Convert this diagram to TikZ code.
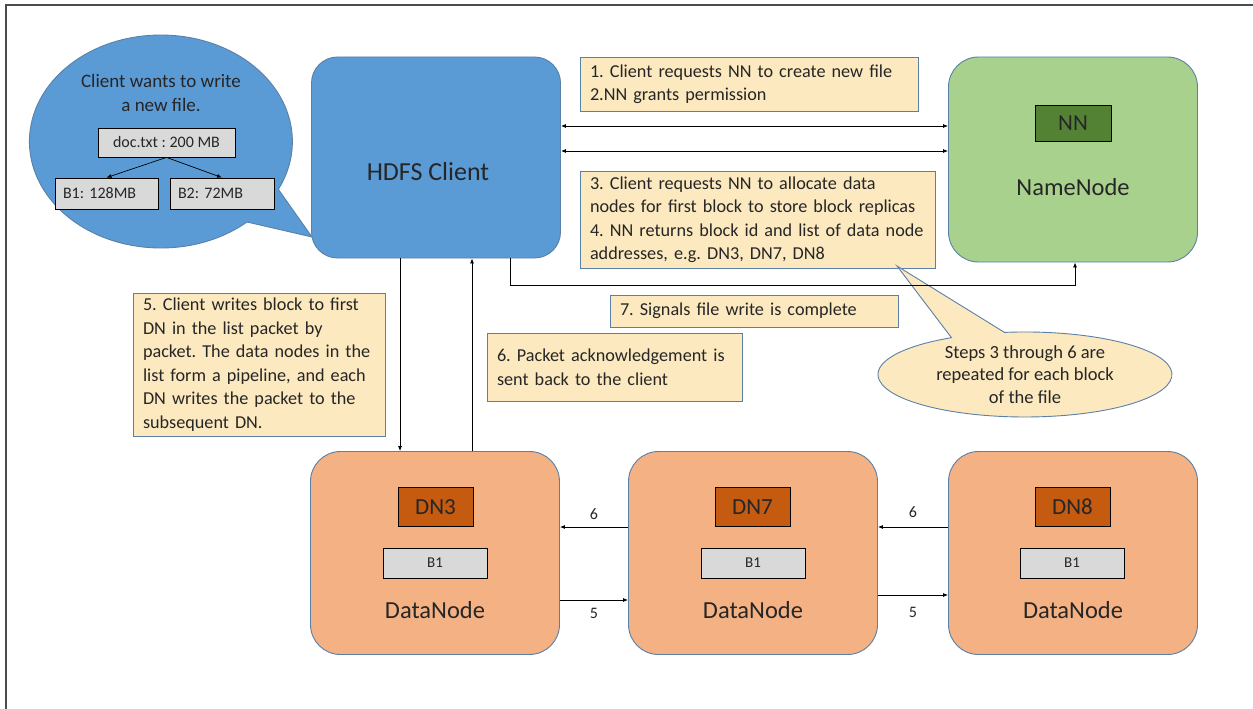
\documentclass[tikz,border=0pt]{standalone}
\usepackage{fontspec}
\setmainfont{Carlito}
\usetikzlibrary{arrows.meta,calc}
\definecolor{cblue}{HTML}{5B9BD5}
\definecolor{edge}{HTML}{5A80A8}
\definecolor{cgreen}{HTML}{A9D18E}
\definecolor{dgreen}{HTML}{548235}
\definecolor{corange}{HTML}{F4B183}
\definecolor{dorange}{HTML}{C55A11}
\definecolor{cgray}{HTML}{D9D9D9}
\definecolor{cnote}{HTML}{FCE9C0}
\definecolor{ctext}{HTML}{262626}
\frenchspacing
\hbadness=10000 \hfuzz=20pt
\begin{document}
\begin{tikzpicture}[x=1pt,y=-1pt,
  every node/.style={text=ctext},
  arr/.style={-{Latex[length=5pt,width=4pt]}, line width=0.8pt},
  darr/.style={{Latex[length=5pt,width=4pt]}-{Latex[length=5pt,width=4pt]}, line width=0.8pt},
  bigbox/.style={draw=edge, line width=0.9pt, rounded corners=30pt, minimum width=249pt, minimum height=203pt, inner sep=0pt},
  tagbox/.style={draw=black, line width=0.8pt, minimum width=75pt, minimum height=39pt, inner sep=0pt, font=\fontsize{23}{26}\selectfont},
  graybox/.style={draw=black, fill=cgray, line width=0.8pt, inner sep=0pt},
  note/.style={draw=edge, fill=cnote, line width=0.8pt, inner xsep=10pt, inner ysep=0pt, align=left, font=\fontsize{18.2}{23.5}\selectfont},
  biglabel/.style={font=\fontsize{24.5}{28}\selectfont},
  small/.style={font=\fontsize{16}{18}\selectfont}
]
\useasboundingbox (0,0) rectangle (1253,709);
\fill[white] (0,0) rectangle (1253,709);
% frame
\draw[gray!60!black, line width=1.6pt] (6,709) -- (6,5) -- (1253,5);

% blue speech bubble
\path[fill=cblue, draw=edge, line width=0.9pt] (247,222) arc[start angle=49.1, end angle=386.7, x radius=131.5, y radius=106.5] -- (312,237) -- cycle;
\node[align=center, font=\fontsize{19}{24}\selectfont] (wants) at (161,93) {Client wants to write\\a new file.};
\node[graybox, minimum width=137pt, minimum height=29pt, small] (doc) at (166.5,142.5) {doc.txt : 200 MB};
\node[graybox, minimum width=103pt, minimum height=31pt, small, text width=87pt, align=left] (b1a) at (106.5,193.5) {B1: 128MB};
\node[graybox, minimum width=104pt, minimum height=31pt, small, text width=88pt, align=left] (b2a) at (222,193.5) {B2: 72MB};
\draw[arr, line width=0.7pt] (doc.south) -- (b1a.north);
\draw[arr, line width=0.7pt] (doc.south) -- (b2a.north);

% HDFS client
\node[bigbox, fill=cblue, minimum height=201pt, rounded corners=26pt] (hdfs) at (436,157.5) {};
\node[font=\fontsize{26}{30}\selectfont] (hdfslabel) at (428,172) {HDFS Client};

% NameNode
\node[bigbox, fill=cgreen, minimum height=205pt] (nn) at (1073,159.5) {};
\node[tagbox, fill=dgreen, minimum width=76pt, minimum height=36pt] (nntag) at (1073,123) {NN};
\node[biglabel] (nnlabel) at (1073,187) {NameNode};

% DataNodes
\node[bigbox, fill=corange] (dn3) at (435,553) {};
\node[tagbox, fill=dorange] (dn3tag) at (435.5,507) {DN3};
\node[graybox, minimum width=104pt, minimum height=30pt, font=\fontsize{15}{17}\selectfont] (dn3b) at (435,563) {B1};
\node[biglabel] (dn3label) at (435,610) {DataNode};

\node[bigbox, fill=corange] (dn7) at (753,553) {};
\node[tagbox, fill=dorange] (dn7tag) at (752.5,507) {DN7};
\node[graybox, minimum width=104pt, minimum height=30pt, font=\fontsize{15}{17}\selectfont] (dn7b) at (753,563) {B1};
\node[biglabel] (dn7label) at (753,610) {DataNode};

\node[bigbox, fill=corange] (dn8) at (1073,553) {};
\node[tagbox, fill=dorange] (dn8tag) at (1072.5,507) {DN8};
\node[graybox, minimum width=104pt, minimum height=30pt, font=\fontsize{15}{17}\selectfont] (dn8b) at (1072,563) {B1};
\node[biglabel] (dn8label) at (1073,610) {DataNode};

% notes
\node[note, minimum width=338pt, minimum height=54pt, text width=318pt] (n12) at (749,84) {1. Client requests NN to create new file\\2.NN grants permission};
\node[note, minimum width=355pt, minimum height=97pt, text width=335pt] (n34) at (757.5,219.5) {\mbox{3. Client requests NN to allocate data}\\\mbox{nodes for first block to store block replicas}\\\mbox{4. NN returns block id and list of data node}\\\mbox{addresses, e.g. DN3, DN7, DN8}};
\node[note, minimum width=288pt, minimum height=32pt, text width=268pt] (n7) at (754,311) {7. Signals file write is complete};
\node[note, minimum width=252pt, minimum height=143pt, text width=232pt] (n5) at (259,364.5) {5. Client writes block to first\\DN in the list packet by\\packet. The data nodes in the\\list form a pipeline, and each\\DN writes the packet to the\\subsequent DN.};
\node[note, minimum width=255pt, minimum height=68pt, text width=235pt] (n6) at (614.5,367) {6. Packet acknowledgement is\\sent back to the client};

% callout
\path[fill=cnote, draw=edge, line width=0.9pt] (1004.5,332.4) arc[start angle=262, end angle=600, x radius=147, y radius=42.5] -- (897,266) -- cycle;
\node[align=center, font=\fontsize{18.5}{22.5}\selectfont] (steps) at (1025,374.5) {Steps 3 through 6 are\\repeated for each block\\of the file};

% connectors client <-> namenode
\coordinate (r1) at (0,126);
\coordinate (r2) at (0,151);
\draw[darr] (hdfs.east |- r1) -- (nn.west |- r1);
\draw[darr] (hdfs.east |- r2) -- (nn.west |- r2);
\coordinate (c7) at (1075,285);
\draw[arr] ([xshift=74pt]hdfs.south) |- (c7) -- (c7 |- nn.south);

% client <-> DN3
\draw[arr] ([xshift=-36pt]hdfs.south) -- ([xshift=-35pt]dn3.north);
\draw[arr] ([xshift=37pt]dn3.north) -- ([xshift=36pt]hdfs.south);

% pipeline
\draw[arr] ([yshift=26pt]dn7.west) -- ([yshift=26pt]dn3.east) node[midway, above=4pt, small] (l6a) {6};
\draw[arr] ([yshift=-47pt]dn3.east) -- ([yshift=-47pt]dn7.west) node[midway, below=4pt, small] (l5a) {5};
\draw[arr] ([yshift=26pt]dn8.west) -- ([yshift=26pt]dn7.east) node[midway, above=6pt, small] (l6b) {6};
\draw[arr] ([yshift=-42pt]dn7.east) -- ([yshift=-42pt]dn8.west) node[midway, below=8pt, small] (l5b) {5};
\end{tikzpicture}
\end{document}
